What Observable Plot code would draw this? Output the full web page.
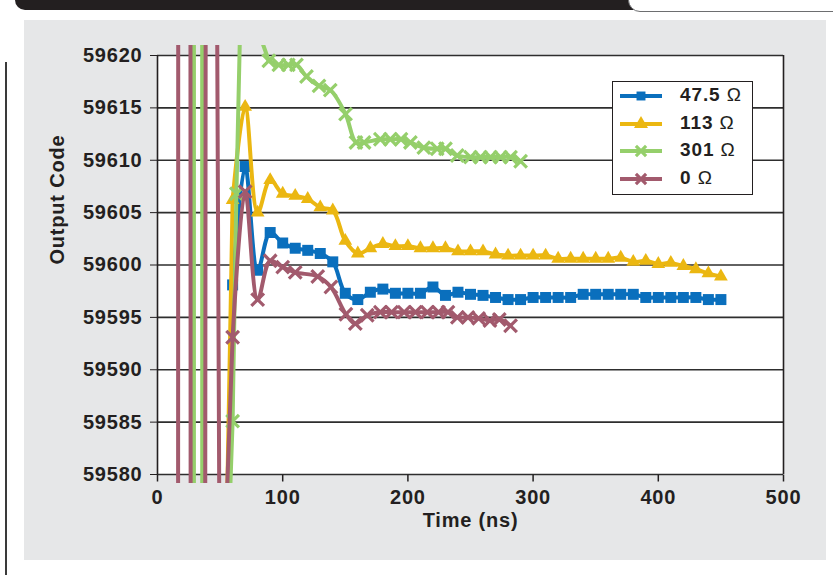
<!DOCTYPE html>
<html><head><meta charset="utf-8">
<script src="https://cdn.jsdelivr.net/npm/d3@7"></script>
<script src="https://cdn.jsdelivr.net/npm/@observablehq/plot@0.6"></script>
<style>
html,body{margin:0;padding:0;background:#fff;}
body{width:833px;height:575px;position:relative;overflow:hidden;font-family:"Liberation Sans",Arial,sans-serif;color:#231f20;}
#bar{position:absolute;left:15px;top:0;width:625px;height:10px;background:#231f20;border-bottom-left-radius:10px;}
#tab{position:absolute;left:628px;top:-12px;width:230px;height:22px;border:1.5px solid #6d6e70;border-radius:12px;background:#fff;}
#panel{position:absolute;left:24px;top:20px;width:802px;height:540px;background:#e6e7e8;}
#vline{position:absolute;left:5px;top:62px;width:1.6px;height:520px;background:#3a3a3a;}
#chart{position:absolute;left:0;top:0;}
#chart svg text{letter-spacing:0.8px;}
#legend{position:absolute;left:612px;top:81px;width:139px;height:112px;background:#fff;border:1.6px solid #231f20;}
#legend .row{position:absolute;left:0;height:20px;display:flex;align-items:center;}
#legend .lab{position:absolute;left:67px;top:-2px;font-size:19px;font-weight:bold;letter-spacing:0.9px;white-space:nowrap;line-height:22px;}
#legend .lab span{font-weight:normal;}
</style></head><body>
<div id="bar"></div><div id="tab"></div><div id="panel"></div><div id="vline"></div>
<div id="chart"></div><div id="legend"></div>
<script>
// ---- axis ticks ----
const xTicks = [0, 100, 200, 300, 400, 500];
const yTicks = [59580, 59585, 59590, 59595, 59600, 59605, 59610, 59615, 59620];

// ---- series names & colours ----
const seriesNames = ["47.5", "113", "301", "0"];
const seriesColors = ["#0a6fbd", "#ebb711", "#95cf6b", "#a25a6d"];

// ---- 47.5 Ω : early (off-scale) ringing, then settled samples ----
const ringT475 = [0, 10, 20, 30, 40, 50, 60];
const ringV475 = [0, 0, 0, 0, 0, 59538, 59598.1];
const t475 = [60, 70, 80, 90, 100, 110, 120, 130, 140, 150, 160, 170, 180, 190, 200, 210, 220, 230, 240, 250,
  260, 270, 280, 290, 300, 310, 320, 330, 340, 350, 360, 370, 380, 390, 400, 410, 420, 430, 440, 450];
const v475 = [59598.1, 59609.4, 59599.5, 59603.1, 59602.1, 59601.6, 59601.4, 59601.1, 59600.3, 59597.3,
  59596.7, 59597.4, 59597.7, 59597.3, 59597.3, 59597.3, 59597.9, 59597.1, 59597.4, 59597.2,
  59597.1, 59596.9, 59596.7, 59596.7, 59596.9, 59596.9, 59596.9, 59596.9, 59597.2, 59597.2,
  59597.2, 59597.2, 59597.2, 59596.9, 59596.9, 59596.9, 59596.9, 59596.9, 59596.7, 59596.7];

// ---- 113 Ω ----
const ringT113 = [0, 10, 20, 30, 40, 50, 60];
const ringV113 = [0, 0, 0, 0, 0, 59541, 59606.2];
const t113 = [60, 70, 80, 90, 100, 110, 120, 130, 140, 150, 160, 170, 180, 190, 200, 210, 220, 230, 240, 250,
  260, 270, 280, 290, 300, 310, 320, 330, 340, 350, 360, 370, 380, 390, 400, 410, 420, 430, 440, 450];
const v113 = [59606.2, 59615.1, 59605.0, 59608.1, 59606.8, 59606.6, 59606.3, 59605.5, 59605.2, 59602.3,
  59601.1, 59601.6, 59602.0, 59601.8, 59601.8, 59601.6, 59601.6, 59601.6, 59601.3, 59601.3,
  59601.3, 59601.0, 59600.9, 59600.9, 59600.9, 59600.9, 59600.6, 59600.6, 59600.6, 59600.6,
  59600.6, 59600.7, 59600.3, 59600.4, 59600.1, 59600.2, 59599.9, 59599.6, 59599.2, 59598.9];

// ---- 301 Ω ----
const ringT301 = [0, 10, 20, 30, 40, 50, 60, 63, 70, 80, 88.9];
const ringV301 = [0, 0, 0, 65535, 55123, 59551, 59585.1, 59606.8, 59644, 59622.5, 59619.5];
const t301 = [88.9, 96.9, 104.5, 111, 119, 129, 138, 150.2, 158.5, 165, 178, 186, 194.5, 202, 212.7, 223.4,
  230, 239.4, 250, 258, 266, 274, 282, 290];
const v301 = [59619.5, 59619.1, 59619.1, 59619.1, 59618.0, 59617.1, 59616.7, 59614.4, 59611.7, 59611.7,
  59612.0, 59612.0, 59612.0, 59611.7, 59611.2, 59611.1, 59611.1, 59610.45, 59610.3, 59610.3,
  59610.3, 59610.3, 59610.3, 59609.9];

// ---- 0 Ω ----
const ringT0 = [0, 10, 20, 30, 40, 50, 60];
const ringV0 = [50000, 55946, 61567, 58494, 59827, 59560, 59593.1];
const t0 = [60, 70, 80, 90, 100, 110, 128, 138.5, 150.5, 158, 167.5, 178, 187, 197, 206, 215.5, 224.5, 232,
  239.5, 248, 256.5, 265.5, 273, 282];
const v0 = [59593.1, 59607.0, 59596.7, 59600.4, 59599.8, 59599.3, 59598.9, 59597.9, 59595.3, 59594.4,
  59595.2, 59595.5, 59595.5, 59595.5, 59595.5, 59595.5, 59595.5, 59595.5,
  59595.0, 59595.0, 59594.9, 59594.7, 59594.8, 59594.2];

// ---- build tables ----
const toRows = (ts, vs) => ts.map((t, i) => ({t, v: vs[i]}));
const series = [
  {ring: toRows(ringT475, ringV475), settled: toRows(t475, v475), symbol: "square"},
  {ring: toRows(ringT113, ringV113), settled: toRows(t113, v113), symbol: "triangle"},
  {ring: toRows(ringT301, ringV301), settled: toRows(t301, v301), symbol: "times"},
  {ring: toRows(ringT0, ringV0), settled: toRows(t0, v0), symbol: "times"}
];

const ink = "#231f20";
const tickSymbol = {draw(ctx) { ctx.moveTo(0, 0); ctx.lineTo(0, 7); }};

function dotOpts(s, color) {
  if (s.symbol === "square") return {x: "t", y: "v", symbol: "square", fill: color, r: 6.2, clip: true};
  if (s.symbol === "triangle") return {x: "t", y: "v", symbol: "triangle", fill: color, r: 5.1, clip: true};
  return {x: "t", y: "v", symbol: "times", stroke: color, strokeWidth: 3.2, r: 5.8, clip: true};
}

const seriesMarks = series.flatMap((s, i) => {
  const c = seriesColors[i];
  const pts = s.ring.slice(0, -1).concat(s.settled);
  return [
    Plot.line(s.ring, {x: "t", y: "v", stroke: c, strokeWidth: 4, clip: true}),
    Plot.line(s.settled, {x: "t", y: "v", stroke: c, strokeWidth: 4, curve: "catmull-rom", clip: true}),
    Plot.dot(pts, dotOpts(s, c))
  ];
});

const chart = Plot.plot({
  width: 833, height: 575,
  marginLeft: 157, marginRight: 50, marginTop: 45, marginBottom: 92,
  insetTop: 10, insetBottom: 9,
  style: {background: "transparent", overflow: "visible", fontFamily: "'Liberation Sans', Arial, sans-serif",
    fontSize: "20px", fontWeight: "bold", color: ink},
  x: {domain: [xTicks[0], xTicks[xTicks.length - 1]], axis: null},
  y: {domain: [yTicks[0], yTicks[yTicks.length - 1]], ticks: yTicks, tickSize: 7, tickPadding: 8,
      tickFormat: d3.format("d"), label: null},
  marks: [
    Plot.rect([0], {x1: xTicks[0], x2: xTicks[xTicks.length - 1], y1: yTicks[0], y2: yTicks[yTicks.length - 1], fill: "#ffffff"}),
    Plot.ruleY(yTicks, {stroke: "#2e2e2e", strokeWidth: 1.6}),
    Plot.ruleX([xTicks[0], xTicks[xTicks.length - 1]], {y1: yTicks[0], y2: yTicks[yTicks.length - 1], stroke: ink, strokeWidth: 1.6}),
    Plot.dot(xTicks, {x: d => d, y: yTicks[0], symbol: tickSymbol, stroke: ink, strokeWidth: 1.5, fill: "none", r: 3}),
    Plot.text(xTicks, {x: d => d, y: yTicks[0], dy: 23, text: d => String(d), fill: ink, fontSize: 20, fontWeight: "bold"}),
    Plot.text(["Time (ns)"], {text: d => d, frameAnchor: "bottom", dy: 43, fill: ink, fontSize: 20, fontWeight: "bold"}),
    Plot.text(["Output Code"], {text: d => d, frameAnchor: "left", dx: -100, rotate: -90, fill: ink, fontSize: 20, fontWeight: "bold"}),
    ...seriesMarks
  ]
});
document.getElementById("chart").appendChild(chart);

// ---- legend ----
const legend = d3.select("#legend");
const symbolTypes = {square: d3.symbolSquare, triangle: d3.symbolTriangle, times: d3.symbolTimes};
series.forEach((s, i) => {
  const c = seriesColors[i];
  const row = legend.append("div").attr("class", "row").style("top", (4 + i * 27.7) + "px");
  const svg = row.append("svg").attr("width", 60).attr("height", 20).style("position", "absolute").style("left", "0px").style("top", "0px");
  svg.append("line").attr("x1", 7).attr("x2", 49).attr("y1", 10).attr("y2", 10).attr("stroke", c).attr("stroke-width", 4);
  const size = s.symbol === "square" ? 80 : s.symbol === "triangle" ? 85 : 70;
  const p = svg.append("path").attr("transform", "translate(28,10)")
    .attr("d", d3.symbol(symbolTypes[s.symbol], size)());
  if (s.symbol === "times") p.attr("fill", "none").attr("stroke", c).attr("stroke-width", 3.2);
  else p.attr("fill", c);
  row.append("div").attr("class", "lab").html(seriesNames[i] + " <span>Ω</span>");
});
</script></body></html>
